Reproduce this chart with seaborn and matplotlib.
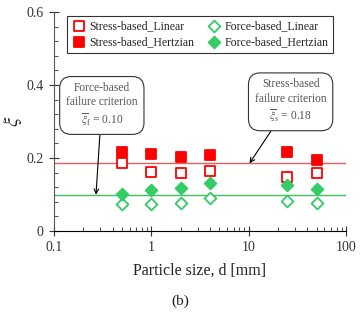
import numpy as np
import pandas as pd
import matplotlib
matplotlib.use('Agg')
import matplotlib.pyplot as plt
import seaborn as sns
from matplotlib.ticker import MultipleLocator, LogLocator, NullFormatter, FixedLocator

# data
sizes = [0.5, 1, 2, 4, 25, 50]
stress_linear = [0.187, 0.162, 0.159, 0.165, 0.147, 0.158]
stress_hertz = [0.217, 0.210, 0.203, 0.208, 0.215, 0.193]
force_linear = [0.074, 0.074, 0.077, 0.090, 0.083, 0.077]
force_hertz = [0.102, 0.111, 0.118, 0.130, 0.127, 0.116]
xi_s = 0.185
xi_f = 0.099

red = '#ff0000'
green = '#33cc66'

sns.set_style('ticks')
plt.rcParams['font.family'] = ['Liberation Serif', 'DejaVu Serif']
plt.rcParams['mathtext.fontset'] = 'stix'

fig = plt.figure(figsize=(3.6, 3.12), dpi=100)
ax = fig.add_axes([0.15, 0.26, 0.811, 0.7015])

ax.axhline(xi_s, color='#e06060', lw=1.0, zorder=1)
ax.axhline(xi_f, color='#40c060', lw=1.0, zorder=1)

series = [
    ('Stress-based_Linear', stress_linear, 's', red, False, 56),
    ('Stress-based_Hertzian', stress_hertz, 's', red, True, 56),
    ('Force-based_Linear', force_linear, 'D', green, False, 36),
    ('Force-based_Hertzian', force_hertz, 'D', green, True, 36),
]
for name, vals, mk, col, filled, s in series:
    df = pd.DataFrame({'d': sizes, 'xi': vals})
    sns.scatterplot(data=df, x='d', y='xi', ax=ax, marker=mk, s=s,
                    facecolor=col if filled else 'white', edgecolor=col,
                    linewidth=1.3, label=name, zorder=3)

ax.set_xscale('log')
ax.set_xlim(0.1, 100)
ax.set_ylim(0, 0.6)
ax.xaxis.set_major_locator(FixedLocator([0.1, 1, 10, 100]))
ax.set_xticklabels(['0.1', '1', '10', '100'])
ax.xaxis.set_minor_locator(LogLocator(base=10, subs=np.arange(2, 10)))
ax.xaxis.set_minor_formatter(NullFormatter())
ax.set_yticks([0, 0.2, 0.4, 0.6])
ax.set_yticklabels(['0', '0.2', '0.4', '0.6'])
ax.yaxis.set_minor_locator(MultipleLocator(0.04))
ax.tick_params(which='major', direction='inout', length=7, width=0.8, labelsize=10,
               colors='#333333', pad=4)
ax.tick_params(which='minor', direction='in', length=3, width=0.8, colors='#555555')
sns.despine(ax=ax)
ax.spines['left'].set_color('#555555')
ax.spines['bottom'].set_color('black')

ax.set_xlabel('Particle size, d [mm]', fontsize=11.5, color='#222222', labelpad=6)
ax.set_ylabel(r'$\xi$', fontsize=15, labelpad=2)

leg = ax.legend(ncol=2, loc='upper left', bbox_to_anchor=(0.025, 1.01), fontsize=8.5,
                frameon=True, fancybox=False, edgecolor='#333333', framealpha=1,
                handletextpad=0.3, columnspacing=1.0, borderpad=0.4, labelspacing=0.3,
                handlelength=1.2)
leg.get_frame().set_linewidth(0.8)

box = dict(boxstyle='round,pad=0.55,rounding_size=1.0', fc='white', ec='#333333', lw=0.8)
ax.annotate('Force-based\nfailure criterion\n' + r'$\overline{\xi}_{\mathrm{f}}$ = 0.10',
            xy=(0.27, xi_f), xytext=(0.31, 0.345), textcoords='data',
            ha='center', va='center', fontsize=8.3, color='#555555', bbox=box,
            linespacing=1.25,
            arrowprops=dict(arrowstyle='->', color='black', lw=0.8, shrinkA=0, shrinkB=0))
ax.annotate('Stress-based\nfailure criterion\n' + r'$\overline{\xi}_{\mathrm{s}}$ = 0.18',
            xy=(10.2, xi_s), xytext=(27, 0.355), textcoords='data',
            ha='center', va='center', fontsize=8.3, color='#555555', bbox=box,
            linespacing=1.25,
            arrowprops=dict(arrowstyle='->', color='black', lw=0.8, shrinkA=0, shrinkB=0))

fig.text(0.5, 0.035, '(b)', ha='center', va='center', fontsize=11, color='#222222')

fig.savefig('out.png', dpi=100)
